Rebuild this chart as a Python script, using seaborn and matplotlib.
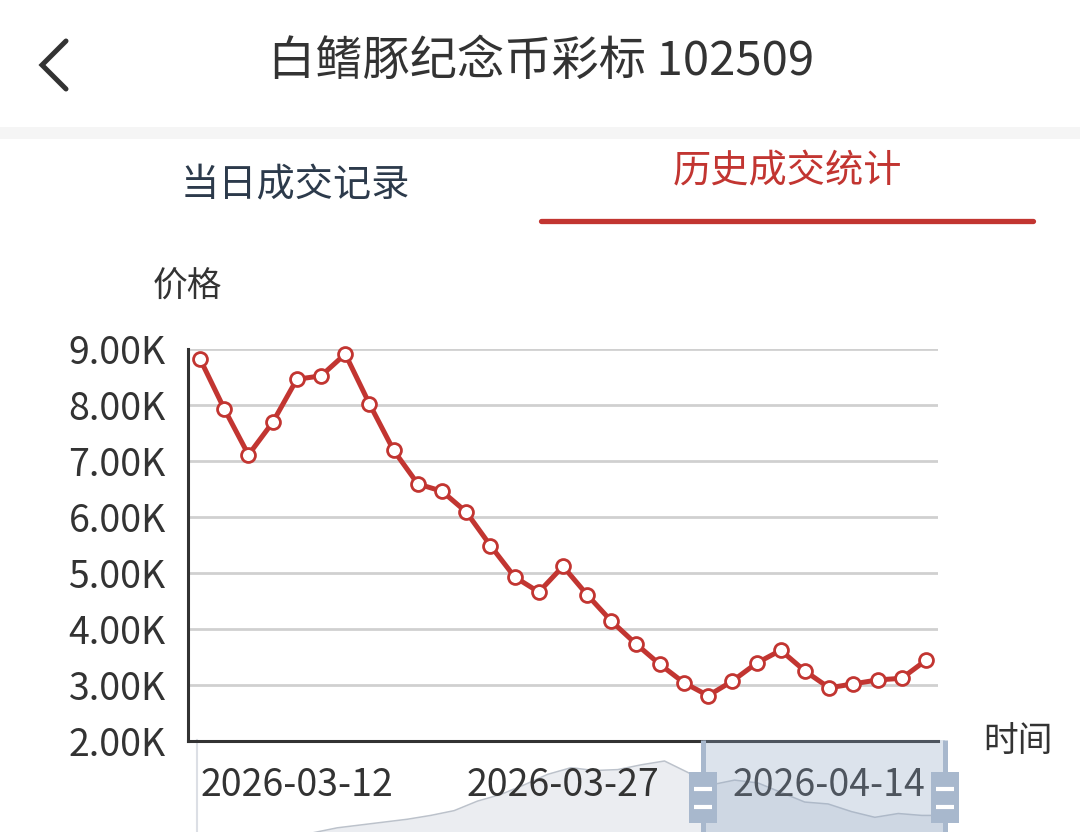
import matplotlib

matplotlib.use("Agg")

import matplotlib.pyplot as plt
import pandas as pd
import seaborn as sns
from matplotlib.lines import Line2D
from matplotlib.patches import Rectangle
from matplotlib.ticker import FuncFormatter


FIG_W, FIG_H = 1080, 832
RED = "#c23531"
TEXT_DARK = "#333333"
TAB_DARK = "#2c3a4b"
HANDLE = "#a8b8cd"

TITLE = "白鳍豚纪念币彩标 102509"
TABS = ["当日成交记录", "历史成交统计"]
Y_NAME = "价格"
X_NAME = "时间"

DATES = [
    "2026-03-06", "2026-03-09", "2026-03-10", "2026-03-11", "2026-03-12",
    "2026-03-13", "2026-03-16", "2026-03-17", "2026-03-18", "2026-03-19",
    "2026-03-20", "2026-03-23", "2026-03-24", "2026-03-25", "2026-03-26",
    "2026-03-27", "2026-03-30", "2026-03-31", "2026-04-01", "2026-04-02",
    "2026-04-03", "2026-04-07", "2026-04-08", "2026-04-09", "2026-04-10",
    "2026-04-13", "2026-04-14", "2026-04-15", "2026-04-16", "2026-04-17",
    "2026-04-20",
]
PRICES = [
    8820, 7930, 7110, 7690, 8460, 8520, 8910, 8020, 7190, 6590,
    6460, 6090, 5490, 4930, 4660, 5120, 4610, 4140, 3740, 3370,
    3040, 2810, 3070, 3390, 3620, 3250, 2950, 3020, 3090, 3120,
    3440,
]
LABEL_DATES = ["2026-03-12", "2026-03-27", "2026-04-14"]
Y_TICKS = [2000, 3000, 4000, 5000, 6000, 7000, 8000, 9000]

# data zoom slider: shadow of the full history (relative height) and window in percent
SHADOW = [
    0.0, 0.1, 0.2, 0.4, 0.7, 1.3, 1.8, 2.1, 2.4, 2.7, 3.1,
    3.6, 4.6, 5.3, 6.3, 7.4, 8.1, 7.8, 7.9, 8.4, 8.8, 7.6,
    6.3, 6.8, 6.5, 5.5, 4.5, 4.3, 3.5, 2.9, 3.3, 3.1, 3.1,
]
ZOOM_START = 67.6
ZOOM_END = 100.0


def fx(x):
    return x / FIG_W


def fy(y):
    return 1 - y / FIG_H


SLIDER_RECT = [fx(197), fy(845), (945 - 197) / FIG_W, (845 - 740) / FIG_H]


def draw_header(fig):
    fig.add_artist(Line2D([fx(66), fx(42), fx(66)], [fy(41), fy(65), fy(89)],
                          color=TEXT_DARK, lw=3.6, solid_capstyle="round",
                          solid_joinstyle="miter"))
    fig.text(fx(541), fy(62), TITLE, ha="center", va="center", fontsize=34, color=TEXT_DARK)
    fig.add_artist(Rectangle((0, fy(139)), 1, fy(127) - fy(139), color="#f5f5f5", lw=0))
    fig.text(fx(295), fy(186), TABS[0], ha="center", va="center", fontsize=27.5, color=TAB_DARK)
    fig.text(fx(787), fy(172), TABS[1], ha="center", va="center", fontsize=27.5, color=RED)
    fig.add_artist(Line2D([fx(541), fx(1033)], [fy(221), fy(221)], color=RED, lw=3.8))


def draw_main(fig, df):
    ax = fig.add_axes([fx(188), fy(741), (938 - 188) / FIG_W, (741 - 349) / FIG_H], zorder=1)
    ax.set_facecolor("none")
    sns.lineplot(data=df, x="idx", y="price", ax=ax, color=RED, linewidth=3.6,
                 marker="o", markersize=10, markerfacecolor="white",
                 markeredgecolor=RED, markeredgewidth=2, zorder=5, clip_on=False)

    ax.set_xlim(-0.5, len(DATES) - 0.5)
    ax.set_ylim(Y_TICKS[0], Y_TICKS[-1])
    ax.set_yticks(Y_TICKS)
    ax.yaxis.set_major_formatter(FuncFormatter(lambda v, _: f"{v / 1000:.2f}K"))
    ax.grid(axis="y", color="#d0d0d0", lw=2)
    ax.grid(axis="x", visible=False)
    ax.set_axisbelow(True)

    label_idx = [DATES.index(d) for d in LABEL_DATES]
    ax.set_xticks([i - 0.5 for i in label_idx] + [len(DATES) - 0.5])
    ax.set_xticklabels([])
    ax.set_xticks(label_idx, minor=True)
    ax.set_xticklabels(LABEL_DATES, minor=True)

    for side in ["top", "right"]:
        ax.spines[side].set_visible(False)
    for side in ["left", "bottom"]:
        ax.spines[side].set_color(TEXT_DARK)
        ax.spines[side].set_linewidth(2.2)

    ax.tick_params(axis="y", length=9, width=2, color=TEXT_DARK, pad=7,
                   labelsize=27, labelcolor=TEXT_DARK)
    ax.tick_params(axis="x", which="major", length=8.5, width=2, color=TEXT_DARK)
    ax.tick_params(axis="x", which="minor", length=0, pad=18,
                   labelsize=27, labelcolor=TEXT_DARK)
    ax.set_xlabel("")
    ax.set_ylabel("")

    fig.text(fx(187), fy(287), Y_NAME, ha="center", va="center", fontsize=25, color=TEXT_DARK)
    fig.text(fx(1018), fy(742), X_NAME, ha="center", va="center", fontsize=25, color=TEXT_DARK)


def setup_slider_axes(ax):
    ax.set_facecolor("none")
    ax.set_xlim(0, 100)
    ax.set_ylim(0, 11)
    ax.set_xticks([])
    ax.set_yticks([])
    ax.set_xlabel("")
    ax.set_ylabel("")
    for side in ["top", "right", "bottom", "left"]:
        ax.spines[side].set_visible(False)


def draw_slider(fig):
    # shadow sits under the date labels
    back = fig.add_axes(SLIDER_RECT, zorder=0)
    shadow = pd.DataFrame({
        "pos": [i * 100 / (len(SHADOW) - 1) for i in range(len(SHADOW))],
        "value": SHADOW,
    })
    back.fill_between(shadow["pos"], 0, shadow["value"], color="#e6e9ee", alpha=0.8, lw=0)
    sns.lineplot(data=shadow, x="pos", y="value", ax=back, color="#bcc2cb", linewidth=1.1)
    setup_slider_axes(back)
    back.spines["left"].set_visible(True)
    back.spines["left"].set_color("#dcdfe5")
    back.spines["left"].set_linewidth(1.5)

    # selected window and handles sit above everything
    front = fig.add_axes(SLIDER_RECT, zorder=3)
    front.axvspan(ZOOM_START, ZOOM_END, color="#8ea5c3", alpha=0.3, lw=0)
    setup_slider_axes(front)

    px_per_pct = (945 - 197) / 100
    body_w = 28 / px_per_pct
    for pos in [ZOOM_START, ZOOM_END]:
        front.plot([pos, pos], [0, 11], color=HANDLE, lw=3.6, clip_on=False, solid_capstyle="butt")
        front.add_patch(Rectangle((pos - body_w / 2, 2.3), body_w, 5.35, color=HANDLE,
                                  lw=0, clip_on=False))
        for yy in [3.98, 5.87]:
            front.plot([pos - body_w * 0.32, pos + body_w * 0.32], [yy, yy], color="white",
                       lw=3, clip_on=False, solid_capstyle="butt")


def main():
    sns.set_style("white")
    plt.rcParams["font.family"] = ["Noto Sans CJK SC", "DejaVu Sans"]
    plt.rcParams["axes.unicode_minus"] = False

    df = pd.DataFrame({"idx": list(range(len(DATES))), "date": DATES, "price": PRICES})

    fig = plt.figure(figsize=(FIG_W / 100, FIG_H / 100), dpi=100)
    fig.patch.set_facecolor("white")
    draw_header(fig)
    draw_slider(fig)
    draw_main(fig, df)
    fig.savefig("out.png", dpi=100)
    plt.close(fig)


if __name__ == "__main__":
    main()
